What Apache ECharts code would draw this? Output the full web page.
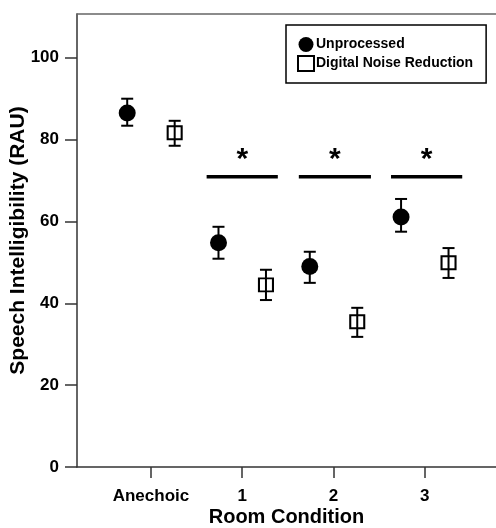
<!DOCTYPE html>
<html>
<head>
<meta charset="utf-8">
<script src="https://cdn.jsdelivr.net/npm/echarts@6/dist/echarts.min.js"></script>
<style>
  html, body { margin: 0; padding: 0; background: #fff; }
  #chart { width: 496px; height: 528px; }
</style>
</head>
<body>
<div id="chart"></div>
<script>
// room conditions on the x axis
var categories = ['Anechoic', '1', '2', '3'];
var tickValues = [0, 1, 2, 3];
var yTicks = [0, 20, 40, 60, 80, 100];
// group offsets from the category tick
var offUnproc = -0.26;
var offDnr = 0.26;
// Unprocessed: mean and error bar ends
var unprocMean = [86.5, 54.8, 49.0, 61.1];
var unprocLow = [83.4, 50.9, 45.0, 57.5];
var unprocHigh = [90.0, 58.7, 52.6, 65.5];
// Digital Noise Reduction
var dnrMean = [81.7, 44.5, 35.5, 49.9];
var dnrLow = [78.5, 40.8, 31.8, 46.2];
var dnrHigh = [84.6, 48.2, 38.9, 53.5];
// significance bars: start, end, level
var sigBars = [[0.61, 1.39, 70.9], [1.62, 2.41, 70.9], [2.63, 3.41, 70.9]];

var FONT = '"Liberation Sans", Arial, Helvetica, sans-serif';
var AXIS_COLOR = '#333';

function points(off, vals) {
	var out = [];
	for (var i = 0; i < vals.length; i++) {
		out.push([tickValues[i] + off, vals[i]]);
	}
	return out;
}
function errors(off, lo, hi) {
	var out = [];
	for (var i = 0; i < lo.length; i++) {
		out.push([tickValues[i] + off, lo[i], hi[i]]);
	}
	return out;
}

function renderError(params, api) {
	var x = api.value(0);
	var lo = api.coord([x, api.value(1)]);
	var hi = api.coord([x, api.value(2)]);
	var cap = 6;
	var st = { stroke: '#000', lineWidth: 2 };
	return {
		type: 'group',
		children: [
			{ type: 'line', shape: { x1: lo[0], y1: lo[1], x2: hi[0], y2: hi[1] }, style: st },
			{ type: 'line', shape: { x1: lo[0] - cap, y1: lo[1], x2: lo[0] + cap, y2: lo[1] }, style: st },
			{ type: 'line', shape: { x1: hi[0] - cap, y1: hi[1], x2: hi[0] + cap, y2: hi[1] }, style: st }
		]
	};
}

function renderSig(params, api) {
	var a = api.coord([api.value(0), api.value(2)]);
	var b = api.coord([api.value(1), api.value(2)]);
	return {
		type: 'group',
		children: [
			{ type: 'line', shape: { x1: a[0], y1: a[1], x2: b[0], y2: b[1] }, style: { stroke: '#000', lineWidth: 3.5 } },
			{ type: 'text', style: { text: '*', x: (a[0] + b[0]) / 2, y: a[1] - 17, align: 'center', verticalAlign: 'middle',
				font: 'bold 30px ' + FONT, fill: '#000' } }
		]
	};
}

var myChart = echarts.init(document.getElementById('chart'));
var option = {
	backgroundColor: '#fff',
	animation: false,
	grid: { left: 77, top: 14, right: 0, bottom: 61, containLabel: false, outerBoundsMode: 'none' },
	legend: {
		orient: 'vertical',
		left: 286,
		top: 25,
		padding: [12, 13, 11, 11],
		borderColor: '#000',
		borderWidth: 1.5,
		itemWidth: 16,
		itemHeight: 15,
		itemGap: 3,
		textStyle: { fontFamily: FONT, fontWeight: 'bold', fontSize: 14, color: '#000', padding: [0, 0, 0, -3] },
		data: ['Unprocessed', 'Digital Noise Reduction']
	},
	xAxis: [{
		type: 'value',
		min: -0.81,
		max: 3.78,
		name: 'Room Condition',
		nameLocation: 'middle',
		nameGap: 40,
		nameMoveOverlap: false,
		nameTextStyle: { fontFamily: FONT, fontWeight: 'bold', fontSize: 20, color: '#000' },
		splitLine: { show: false },
		axisLine: { onZero: false, lineStyle: { color: AXIS_COLOR, width: 1.5 } },
		axisTick: { customValues: tickValues, length: 11, lineStyle: { color: AXIS_COLOR, width: 1.5 } },
		axisLabel: {
			customValues: tickValues,
			margin: 21,
			fontFamily: FONT, fontWeight: 'bold', fontSize: 17, color: '#000',
			formatter: function (v) { return categories[Math.round(v)]; }
		}
	}, {
		type: 'value',
		position: 'top',
		min: -0.81,
		max: 3.78,
		splitLine: { show: false },
		axisLine: { onZero: false, lineStyle: { color: '#666', width: 1.5 } },
		axisTick: { show: false },
		axisLabel: { show: false }
	}],
	yAxis: {
		type: 'value',
		min: 0,
		max: 110.7,
		name: 'Speech Intelligibility (RAU)',
		nameLocation: 'middle',
		nameGap: 48,
		nameMoveOverlap: false,
		nameTextStyle: { fontFamily: FONT, fontWeight: 'bold', fontSize: 21, color: '#000' },
		splitLine: { show: false },
		axisLine: { show: true, onZero: false, lineStyle: { color: AXIS_COLOR, width: 1.5 } },
		axisTick: { show: true, customValues: yTicks, length: 12, lineStyle: { color: AXIS_COLOR, width: 1.5 } },
		axisLabel: { customValues: yTicks, margin: 18, fontFamily: FONT, fontWeight: 'bold', fontSize: 17, color: '#000' }
	},
	series: [
		{ type: 'custom', renderItem: renderError, data: errors(offUnproc, unprocLow, unprocHigh), z: 2, silent: true },
		{ type: 'custom', renderItem: renderError, data: errors(offDnr, dnrLow, dnrHigh), z: 2, silent: true },
		{ type: 'custom', renderItem: renderSig, data: sigBars, z: 2, silent: true },
		{
			name: 'Unprocessed', type: 'scatter', symbol: 'circle', symbolSize: 17, z: 3,
			itemStyle: { color: '#000', opacity: 1 },
			data: points(offUnproc, unprocMean)
		},
		{
			name: 'Digital Noise Reduction', type: 'scatter', symbol: 'rect', symbolSize: [14, 13], z: 3,
			itemStyle: { color: 'rgba(0,0,0,0)', borderColor: '#000', borderWidth: 2, opacity: 1 },
			data: points(offDnr, dnrMean)
		}
	]
};
myChart.setOption(option);
</script>
</body>
</html>
